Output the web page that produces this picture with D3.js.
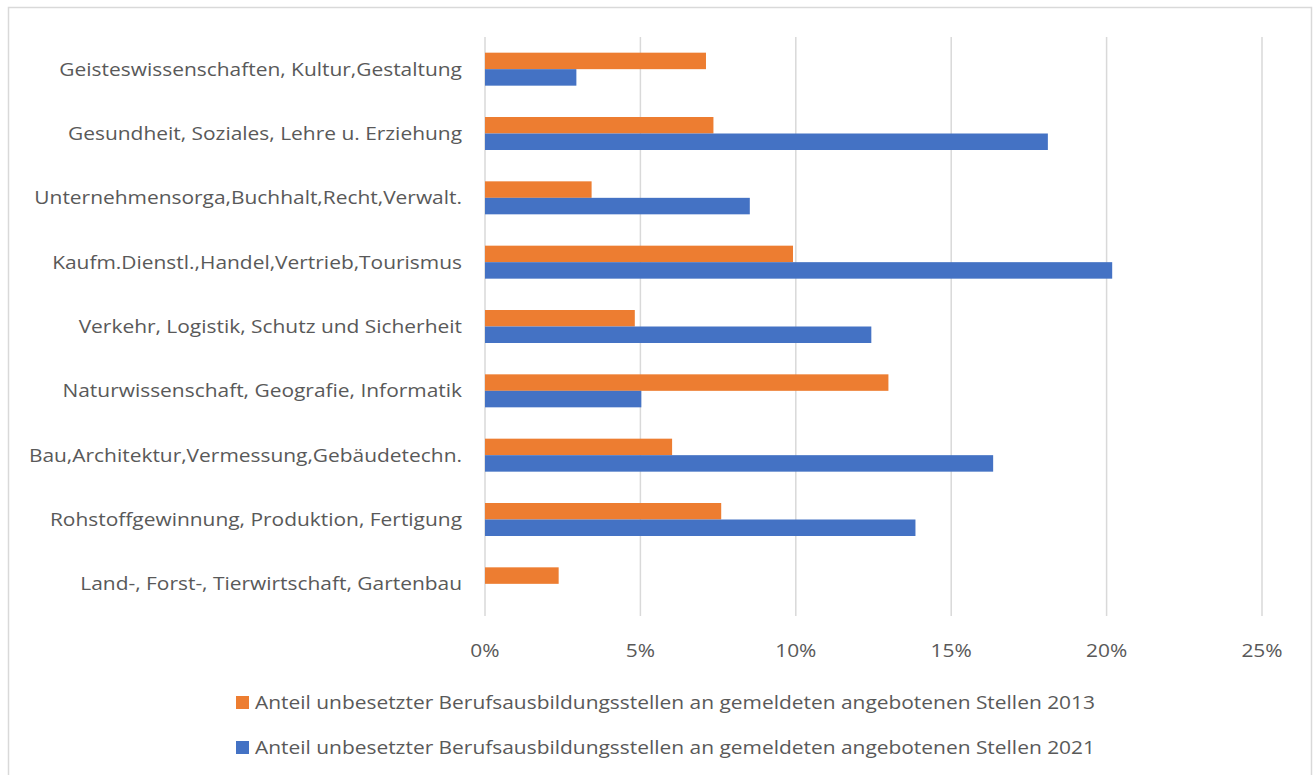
<!DOCTYPE html>
<meta charset="utf-8">
<head>
  <style>
    body { margin: 0; background: #fff; }
    text { font-family: "Open Sans", Lato, sans-serif; fill: #595959; }
    .grid line { stroke: #d9d9d9; stroke-width: 1.5px; }
  </style>
  <script src="https://d3js.org/d3.v7.min.js"></script>
</head>
<body>
  <svg width="1316" height="775"></svg>
  <script>
    var categories = [
      "Geisteswissenschaften, Kultur,Gestaltung",
      "Gesundheit, Soziales, Lehre u. Erziehung",
      "Unternehmensorga,Buchhalt,Recht,Verwalt.",
      "Kaufm.Dienstl.,Handel,Vertrieb,Tourismus",
      "Verkehr, Logistik, Schutz und Sicherheit",
      "Naturwissenschaft, Geografie, Informatik",
      "Bau,Architektur,Vermessung,Gebäudetechn.",
      "Rohstoffgewinnung, Produktion, Fertigung",
      "Land-, Forst-, Tierwirtschaft, Gartenbau"
    ];
    var values2013 = [0.0711, 0.0735, 0.0343, 0.0991, 0.0482, 0.1298, 0.0602, 0.0760, 0.0237];
    var values2021 = [0.0294, 0.1811, 0.0852, 0.2018, 0.1243, 0.0503, 0.1635, 0.1385, 0];
    var seriesNames = [
      "Anteil unbesetzter Berufsausbildungsstellen an gemeldeten angebotenen Stellen 2013",
      "Anteil unbesetzter Berufsausbildungsstellen an gemeldeten angebotenen Stellen 2021"
    ];
    var seriesColors = ["#ED7D31", "#4472C4"];
    var tickValues = [0, 0.05, 0.10, 0.15, 0.20, 0.25];

    var svg = d3.select("svg");

    // chart frame
    svg.append("rect")
      .attr("x", 8.5).attr("y", 7.5)
      .attr("width", 1303).attr("height", 780)
      .attr("fill", "none")
      .attr("stroke", "#d9d9d9")
      .attr("stroke-width", 1.5);

    var x = d3.scaleLinear().domain([0, 0.25]).range([485, 1262]);
    var y = d3.scaleBand().domain(categories).range([37, 616]);
    var ySub = d3.scaleBand().domain([0, 1]).range([0, y.bandwidth()]).paddingOuter(0.95);

    svg.append("g").attr("class", "grid")
      .selectAll("line")
      .data(tickValues)
      .enter().append("line")
      .attr("x1", d => x(d)).attr("x2", d => x(d))
      .attr("y1", 37).attr("y2", 616);

    var series = [values2013, values2021];
    series.forEach(function(vals, si) {
      svg.append("g")
        .selectAll("rect")
        .data(vals)
        .enter().append("rect")
        .attr("x", x(0))
        .attr("y", (d, i) => y(categories[i]) + ySub(si))
        .attr("width", d => x(d) - x(0))
        .attr("height", ySub.bandwidth())
        .attr("fill", seriesColors[si]);
    });

    // category labels
    svg.append("g")
      .selectAll("text")
      .data(categories)
      .enter().append("text")
      .attr("class", "fit")
      .attr("x", 462)
      .attr("y", d => y(d) + y.bandwidth() / 2 + 6.5)
      .attr("text-anchor", "end")
      .style("font-size", "18.5px")
      .text(d => d);

    // x tick labels
    svg.append("g")
      .selectAll("text")
      .data(tickValues)
      .enter().append("text")
      .attr("class", "fit")
      .attr("x", d => x(d))
      .attr("y", 657)
      .attr("text-anchor", "middle")
      .style("font-size", "18.5px")
      .text(d3.format(".0%"));

    // legend
    var legend = svg.append("g")
      .selectAll("g")
      .data(seriesNames)
      .enter().append("g")
      .attr("transform", (d, i) => "translate(236," + (696 + i * 45) + ")");
    legend.append("rect")
      .attr("width", 13).attr("height", 13)
      .attr("fill", (d, i) => seriesColors[i]);
    legend.append("text")
      .attr("class", "fit")
      .attr("x", 19).attr("y", 13)
      .style("font-size", "18.5px")
      .text(d => d);

    // squeeze text so its width matches the original (narrow) face
    var k = 840 / legend.select("text").node().getComputedTextLength();
    svg.selectAll("text.fit").each(function() {
      var w = this.getComputedTextLength();
      d3.select(this).attr("textLength", w * k).attr("lengthAdjust", "spacingAndGlyphs");
    });
  </script>
</body>
